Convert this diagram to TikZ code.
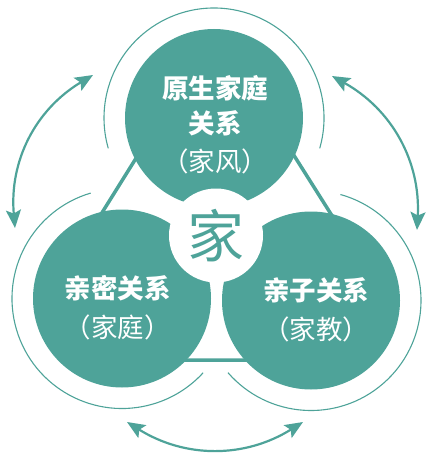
\documentclass[tikz,border=0pt]{standalone}
\usepackage{fontspec}
\setmainfont{Noto Sans CJK SC}
\usetikzlibrary{positioning, arrows.meta}
\definecolor{family_teal}{RGB}{78,163,153}

\begin{document}
\begin{tikzpicture}[>={Stealth[length=18pt,width=15pt,inset=3.5pt]}, x=1pt, y=1pt,
    bubble/.style={circle, fill=family_teal, minimum size=178pt, inner sep=0pt},
    hub/.style={circle, fill=white, minimum size=94pt, inner sep=0pt, text=family_teal, font=\fontsize{57pt}{57pt}\selectfont},
    title/.style={text=white, align=center, inner sep=0pt, font=\bfseries\fontsize{26.5pt}{35pt}\selectfont},
    subtitle/.style={text=white, inner sep=0pt, font=\fontsize{26.5pt}{35pt}\selectfont},
    ring/.style={draw=family_teal, line width=1.1pt},
    edge_line/.style={draw=family_teal, line width=3.5pt},
    exchange/.style={draw=family_teal, line width=2.2pt, <->}]

    \useasboundingbox (0,0) rectangle (433,-460);

    % --- Begin Triangle ---
    \coordinate (apex) at (215.5,-31);
    \coordinate (corner_left) at (10,-360);
    \coordinate (corner_right) at (423,-360);
    \begin{scope}
        % Only the parts between the circles show.
        \clip (215,-250) circle[radius=150];
        \draw[edge_line] (apex) -- (corner_right) -- (corner_left) -- cycle;
    \end{scope}
    % --- End Triangle ---

    % --- Begin Circles ---
    \node[bubble] (Origin) at (214,-118) {};
    \node[bubble] (Intimate) at (122,-298.5) {};
    \node[bubble] (Parent) at (311,-300.5) {};
    \node[hub] (Home) at (216,-235.5) {家};
    % --- End Circles ---

    % Thin rings round the circles.
    \draw[ring] ([shift={(-16:110)}]Origin.center) arc[start angle=-16, end angle=196, radius=110];
    \draw[ring] ([shift={(106.5:110)}]Intimate.center) arc[start angle=106.5, end angle=317.5, radius=110];
    \draw[ring] ([shift={(-139:110)}]Parent.center) arc[start angle=-139, end angle=74.5, radius=110];

    % --- Begin Arrows ---
    \coordinate (tl_a) at (93,-75);
    \coordinate (tl_b) at (15,-228);
    \coordinate (bottom_a) at (127,-422);
    \coordinate (bottom_b) at (303,-422);
    \coordinate (tr_a) at (417,-230);
    \coordinate (tr_b) at (332,-76);
    \draw[exchange] (tl_a) to[bend right=32] (tl_b);
    \draw[exchange] (bottom_a) to[bend right=32] (bottom_b);
    \draw[exchange] (tr_a) to[bend right=32] (tr_b);
    % --- End Arrows ---

    % --- Begin Labels ---
    \node[title] (origin_title) at (215,-105.5) {原生家庭\\关系};
    \node[subtitle, below=13pt of origin_title] (origin_sub) {（家风）};
    \node[title] (intimate_title) at (117.5,-288) {亲密关系};
    \node[subtitle, below=14pt of intimate_title] (intimate_sub) {（家庭）};
    \node[title] (parent_title) at (316,-290) {亲子关系};
    \node[subtitle, below=14pt of parent_title] (parent_sub) {（家教）};
    % --- End Labels ---

\end{tikzpicture}
\end{document}
